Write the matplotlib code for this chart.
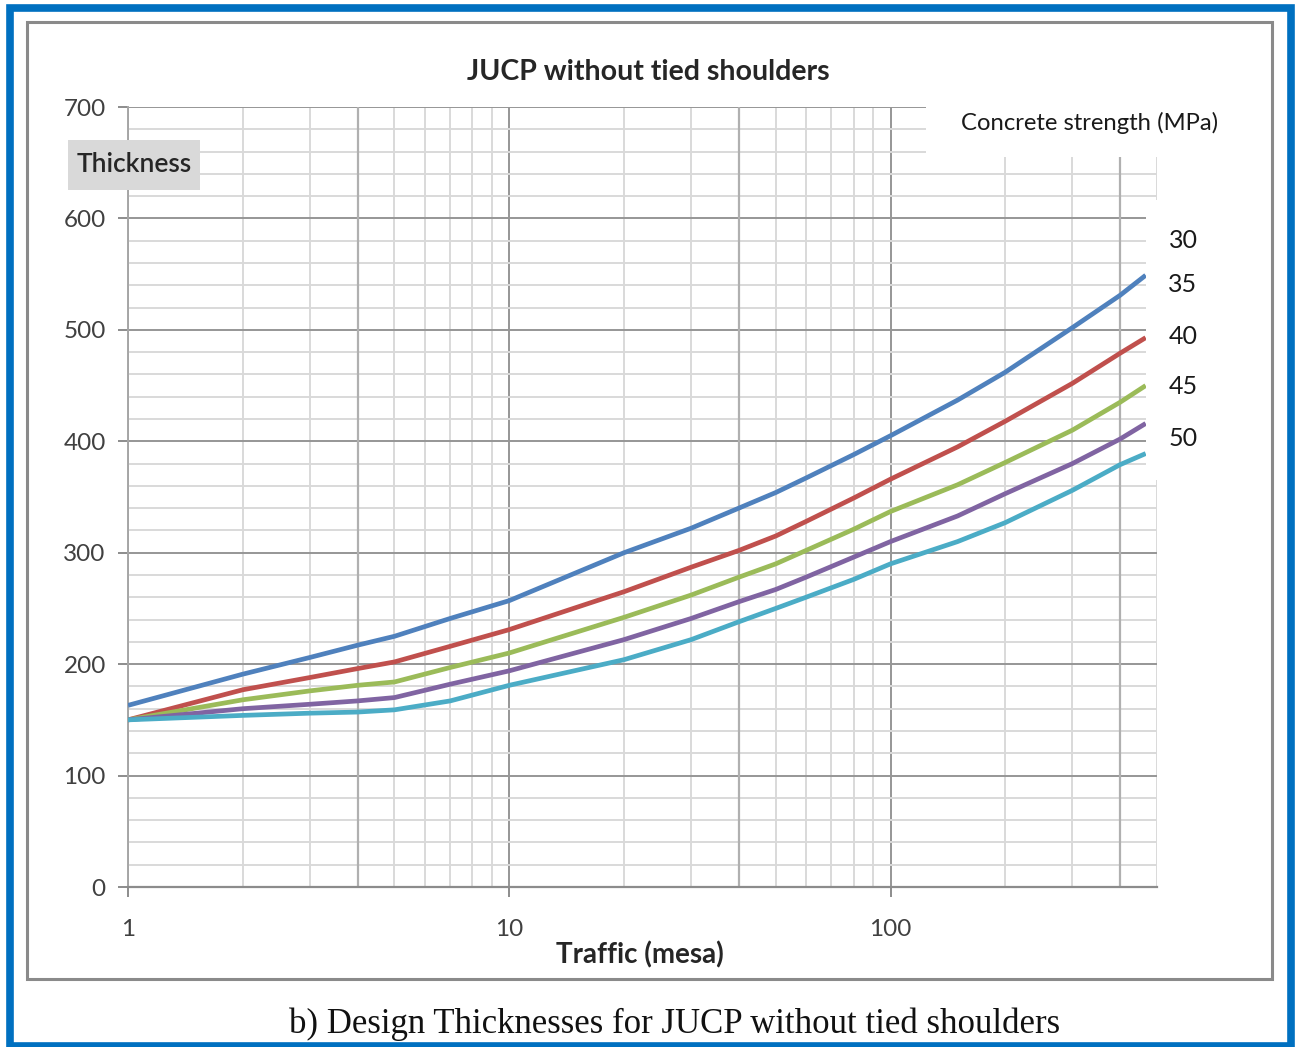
import matplotlib.pyplot as plt
from matplotlib.patches import Rectangle
from matplotlib.ticker import FixedLocator, MultipleLocator, NullFormatter
import numpy as np

# traffic (mesa) sample points
traffic = [1, 2, 3, 4, 5, 7, 10, 20, 30, 40, 50, 60, 80, 100, 150, 200, 300, 400, 467]

# thickness (mm) per concrete strength
t30 = [163, 191, 206, 217, 225, 241, 257, 300, 322, 340, 354, 367, 388, 405, 437, 462, 502, 531, 549]
t35 = [150, 177, 188, 196, 202, 216, 231, 265, 287, 302, 315, 328, 349, 366, 395, 418, 452, 479, 493]
t40 = [150, 168, 176, 181, 184, 197, 210, 242, 262, 278, 290, 302, 321, 337, 361, 381, 410, 435, 450]
t45 = [150, 160, 164, 167, 170, 182, 194, 222, 241, 256, 267, 278, 296, 310, 333, 353, 380, 402, 416]
t50 = [150, 154, 156, 157, 159, 167, 181, 204, 222, 238, 250, 260, 276, 290, 310, 327, 356, 379, 389]

strengths = ["30", "35", "40", "45", "50"]
colors = ["#4F81BD", "#C0504D", "#9BBB59", "#8064A2", "#4BACC6"]

W, H = 1295, 1047


def fx(px):
    return px / W


def fy(py):
    return 1 - py / H


plt.rcParams['font.family'] = ['Lato', 'DejaVu Sans']

fig = plt.figure(figsize=(W / 100, H / 100), dpi=100)

# outer blue frame and grey chart border
fig.patches.append(Rectangle((fx(10), fy(1046)), fx(1291) - fx(10), fy(8) - fy(1046),
                             transform=fig.transFigure, fill=False,
                             edgecolor="#0070C0", linewidth=5.5, zorder=0))
fig.patches.append(Rectangle((fx(27), fy(979)), fx(1272) - fx(27), fy(22) - fy(979),
                             transform=fig.transFigure, fill=False,
                             edgecolor="#8a8a8a", linewidth=2.2, zorder=0))

ax = fig.add_axes([fx(128), fy(887), fx(1157) - fx(128), fy(107) - fy(887)])
ax.set_xscale("log")
ax.set_xlim(1, 500)
ax.set_ylim(0, 700)

for y, c in zip([t30, t35, t40, t45, t50], colors):
    ax.plot(traffic, y, color=c, linewidth=3.4, zorder=3,
            solid_capstyle="butt", solid_joinstyle="round")

# grid
ax.yaxis.set_major_locator(MultipleLocator(100))
ax.yaxis.set_minor_locator(MultipleLocator(20))
ax.xaxis.set_major_locator(FixedLocator([1, 10, 100]))
ax.xaxis.set_minor_locator(FixedLocator([m * d for d in [1, 10, 100] for m in range(2, 10)]))
ax.xaxis.set_minor_formatter(NullFormatter())
ax.set_xticklabels(["1", "10", "100"])
ax.grid(which="major", color="#969696", linewidth=1.4, zorder=1)
ax.grid(which="minor", color="#d9d9d9", linewidth=1.4, zorder=1)
for xv in [4, 40, 400]:
    ax.axvline(xv, color="#b0b0b0", linewidth=1.6, zorder=1)
ax.set_axisbelow(True)

for s in ["top", "right"]:
    ax.spines[s].set_visible(False)
ax.spines["left"].set_color("#a6a6a6")
ax.spines["bottom"].set_color("#8c8c8c")
ax.spines["left"].set_linewidth(1.4)
ax.spines["bottom"].set_linewidth(1.6)
ax.tick_params(which="major", length=7, width=1.4, color="#8c8c8c",
               labelsize=17.5, labelcolor="#404040")
ax.tick_params(which="minor", length=0)
ax.tick_params(axis="y", pad=9)
ax.tick_params(axis="x", pad=16)

# title and axis label
fig.text(fx(648), fy(72), "JUCP without tied shoulders", ha="center", va="center",
         fontsize=20.5, fontweight="bold", color="#262626")
fig.text(fx(640), fy(955), "Traffic (mesa)", ha="center", va="center",
         fontsize=20, fontweight="bold", color="#262626")

# Thickness label box
fig.patches.append(Rectangle((fx(68), fy(190)), fx(200) - fx(68), fy(140) - fy(190),
                             transform=fig.transFigure, facecolor="#d9d9d9",
                             edgecolor="none", zorder=2))
fig.text(fx(134), fy(165), "Thickness", ha="center", va="center",
         fontsize=19, fontweight="semibold", color="#262626", zorder=3)

# legend title area (white, covers grid)
fig.patches.append(Rectangle((fx(926), fy(157)), fx(1268) - fx(926), fy(100) - fy(157),
                             transform=fig.transFigure, facecolor="white",
                             edgecolor="none", zorder=2))
fig.text(fx(1090), fy(123), "Concrete strength (MPa)", ha="center", va="center",
         fontsize=17.2, color="#1a1a1a", zorder=3)

# legend entries area
fig.patches.append(Rectangle((fx(1146), fy(480)), fx(1268) - fx(1146), fy(200) - fy(480),
                             transform=fig.transFigure, facecolor="white",
                             edgecolor="none", zorder=2))
for lab, py in zip(strengths, [240, 285, 336, 387, 438]):
    fig.text(fx(1183), fy(py), lab, ha="center", va="center",
             fontsize=18, color="#1a1a1a", zorder=3)

# caption
fig.text(fx(675), fy(1024), "b) Design Thicknesses for JUCP without tied shoulders",
         ha="center", va="center", fontsize=25, family="Liberation Serif", color="#111111")

fig.savefig("out.png", dpi=100)
